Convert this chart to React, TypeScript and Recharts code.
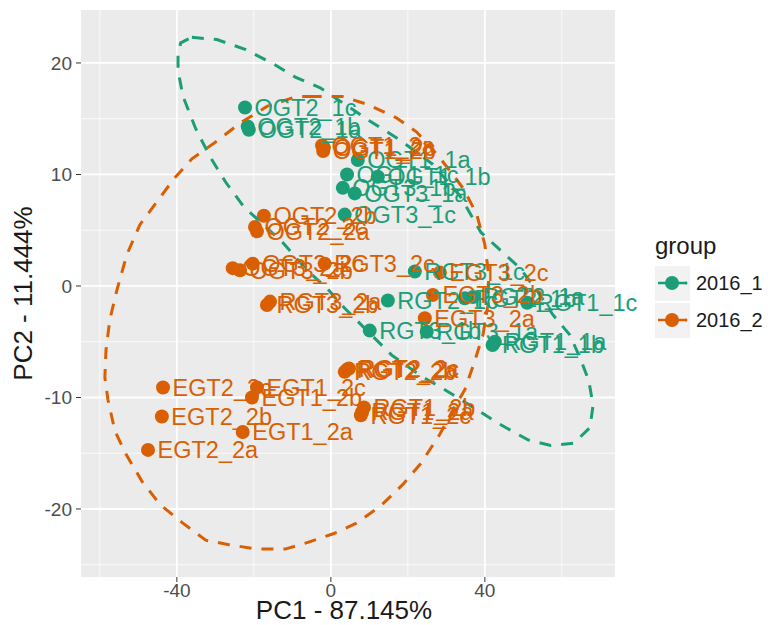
import { ScatterChart, Scatter, XAxis, YAxis, CartesianGrid, ReferenceLine, LabelList, Label } from "recharts";

const GREEN = "#1b9e77";
const ORANGE = "#d95f02";

// group 2016_1
const names1 = ["OGT2_1c", "OGT2_1b", "OGT2_1a", "OGT1_1a", "OGT1_1c", "OGT1_1b", "OGT3_1b", "OGT3_1a", "OGT3_1c", "RGT3_1c", "RGT2_1c", "RGT2_1b", "RGT2_1a", "RGT1_1c", "RGT3_1b", "RGT3_1a", "RGT1_1a", "RGT1_1b"];
const pc1_1 = [-22.3, -21.6, -21.3, 7.0, 4.2, 12.2, 3.1, 6.2, 3.6, 21.8, 14.8, 34.8, 36.9, 51.0, 10.1, 24.9, 42.6, 42.0];
const pc2_1 = [16.0, 14.3, 14.0, 11.3, 10.0, 9.8, 8.8, 8.3, 6.4, 1.3, -1.3, -1.1, -1.0, -1.5, -4.0, -4.1, -5.0, -5.3];

// group 2016_2
const names2 = ["OGT1_2a", "OGT1_2b", "OGT1_2c", "OGT2_2b", "OGT2_2c", "OGT2_2a", "OGT3_2a", "OGT3_2b", "OGT3_2c", "RGT3_2c", "RGT3_2a", "RGT3_2b", "EGT3_2c", "EGT3_2b", "EGT3_2a", "RGT2_2a", "RGT2_2b", "RGT2_2c", "RGT1_2a", "RGT1_2b", "RGT1_2c", "EGT1_2c", "EGT1_2b", "EGT1_2a", "EGT2_2c", "EGT2_2b", "EGT2_2a"];
const pc1_2 = [-2.3, -2.0, -1.8, -17.4, -19.7, -19.2, -25.5, -23.6, -20.3, -1.6, -15.8, -16.6, 28.3, 26.5, 24.4, 4.2, 3.6, 4.7, 8.1, 8.6, 7.8, -19.2, -20.5, -22.9, -43.6, -43.9, -47.5];
const pc2_2 = [12.6, 12.1, 12.4, 6.3, 5.3, 4.9, 1.6, 1.4, 2.0, 2.0, -1.4, -1.7, 1.2, -0.8, -2.9, -7.5, -7.7, -7.4, -11.3, -10.9, -11.6, -9.1, -10.0, -13.1, -9.1, -11.7, -14.7];

// ellipse outlines
const ell1X = [-36.1, -29.6, -22.1, -14.8, -9.1, -2.9, 3.6, 10.1, 17.9, 26.5, 33.5, 39.0, 43.1, 49.1, 53.5, 57.7, 62.1, 64.9, 67.0, 68.1, 67.3, 63.1, 57.1, 51.2, 43.9, 36.1, 29.6, 23.1, 15.8, 8.8, 3.6, -1.0, -6.2, -12.5, -22.6, -27.3, -31.4, -35.1, -38.4, -39.7, -39.7, -39.0, -36.1];
const ell1Y = [22.3, 22.1, 21.2, 19.9, 18.7, 17.8, 16.3, 14.8, 13.1, 10.9, 8.1, 4.8, 3.5, 1.6, -0.4, -2.6, -4.4, -6.6, -8.5, -10.7, -12.7, -14.1, -14.3, -13.8, -12.4, -10.7, -9.3, -8.0, -6.2, -3.8, -2.0, -0.2, 1.4, 3.9, 7.1, 9.3, 11.6, 14.1, 17.0, 19.3, 20.8, 21.8, 22.3];
const ell2X = [-5.5, 2.9, 9.4, 16.9, 22.3, 28.3, 34.5, 37.9, 40.0, 41.0, 40.8, 39.5, 37.1, 34.8, 31.4, 28.3, 23.4, 18.7, 13.0, 6.5, 0.8, -6.0, -11.9, -19.2, -26.5, -32.5, -38.7, -44.4, -49.1, -53.2, -56.1, -57.9, -58.7, -58.4, -57.4, -55.6, -53.0, -49.6, -45.5, -40.8, -36.1, -29.6, -23.6, -16.6, -8.8, -5.5];
const ell2Y = [17.0, 17.0, 16.3, 15.1, 13.8, 11.5, 8.7, 6.4, 3.7, 1.0, -1.7, -4.4, -7.0, -9.3, -11.3, -13.3, -15.9, -17.8, -19.7, -21.3, -22.2, -23.0, -23.6, -23.6, -23.2, -22.8, -21.2, -19.6, -17.5, -15.1, -13.0, -10.2, -8.2, -5.7, -3.0, -0.4, 2.8, 5.5, 7.4, 9.6, 11.4, 13.0, 14.6, 16.1, 17.0, 17.0];

const xMajor = [-40, 0, 40];
const xMinor = [-60, -20, 20, 60];
const yMajor = [-20, -10, 0, 10, 20];
const yMinor = [-25, -15, -5, 5, 15];

const group1 = names1.map((name, i) => ({ name, x: pc1_1[i], y: pc2_1[i] }));
const group2 = names2.map((name, i) => ({ name, x: pc1_2[i], y: pc2_2[i] }));
const ellipse1 = ell1X.map((x, i) => ({ x, y: ell1Y[i] }));
const ellipse2 = ell2X.map((x, i) => ({ x, y: ell2Y[i] }));

const FONT = "'Liberation Sans', Arial, sans-serif";
const noShape = () => <g />;
const dot = (color: string) => (p: any) => <circle cx={p.cx} cy={p.cy} r={7} fill={color} />;

function LegendKey({ color }: { color: string }) {
  return (
    <svg width={35} height={35} style={{ display: "block" }}>
      <rect x={0} y={0} width={35} height={35} fill="#f2f2f2" />
      <line x1={3} y1={17} x2={32} y2={17} stroke={color} strokeWidth={2.5} />
      <circle cx={17} cy={17} r={7} fill={color} />
      <circle cx={31} cy={17} r={1.5} fill={color} />
    </svg>
  );
}

export default function App() {
  return (
    <div style={{ position: "relative", width: 762, height: 617, fontFamily: FONT }}>
      <ScatterChart width={762} height={617} margin={{ top: 2, right: 155, bottom: 0, left: 0 }}>
        <CartesianGrid fill="#ebebeb" horizontal={false} vertical={false} />
        {xMinor.map((v) => (
          <ReferenceLine key={"xm" + v} x={v} stroke="#fff" strokeWidth={0.8} />
        ))}
        {yMinor.map((v) => (
          <ReferenceLine key={"ym" + v} y={v} stroke="#fff" strokeWidth={0.8} />
        ))}
        {xMajor.map((v) => (
          <ReferenceLine key={"xM" + v} x={v} stroke="#fff" strokeWidth={1.8} />
        ))}
        {yMajor.map((v) => (
          <ReferenceLine key={"yM" + v} y={v} stroke="#fff" strokeWidth={1.8} />
        ))}
        <XAxis
          type="number"
          dataKey="x"
          domain={[-64.9, 73.8]}
          ticks={xMajor}
          allowDataOverflow
          height={48}
          axisLine={false}
          tickSize={5}
          tickMargin={2}
          tickLine={{ stroke: "#333", strokeWidth: 1 }}
          tick={{ fill: "#4d4d4d", fontSize: 19 }}
        >
          <Label
            content={(p: any) => {
              const vb = p.viewBox;
              return (
                <text x={vb.x + vb.width / 2 - 4} y={vb.y + 42} textAnchor="middle" fontSize={26} fill="#1a1a1a">
                  PC1 - 87.145%
                </text>
              );
            }}
          />
        </XAxis>
        <YAxis
          type="number"
          dataKey="y"
          domain={[-26.1, 24.75]}
          ticks={yMajor}
          allowDataOverflow
          width={73}
          axisLine={false}
          tickSize={5}
          tickMargin={4}
          tickLine={{ stroke: "#333", strokeWidth: 1 }}
          tick={{ fill: "#4d4d4d", fontSize: 19 }}
        >
          <Label
            content={(p: any) => {
              const vb = p.viewBox;
              const cx = vb.x + 15;
              const cy = vb.y + vb.height / 2;
              return (
                <text x={cx} y={cy} transform={`rotate(-90, ${cx}, ${cy})`} textAnchor="middle" dominantBaseline="central" fontSize={26} fill="#1a1a1a">
                  PC2 - 11.444%
                </text>
              );
            }}
          />
        </YAxis>
        <Scatter data={group1} fill={GREEN} shape={dot(GREEN)} isAnimationActive={false}>
          <LabelList dataKey="name" position="right" offset={5} fill={GREEN} fontSize={23.5} />
        </Scatter>
        <Scatter data={group2} fill={ORANGE} shape={dot(ORANGE)} isAnimationActive={false}>
          <LabelList dataKey="name" position="right" offset={5} fill={ORANGE} fontSize={23.5} />
        </Scatter>
        <Scatter
          data={ellipse1}
          fill={GREEN}
          shape={noShape}
          line={{ stroke: GREEN, strokeWidth: 3, strokeDasharray: "12 10" }}
          isAnimationActive={false}
        />
        <Scatter
          data={ellipse2}
          fill={ORANGE}
          shape={noShape}
          line={{ stroke: ORANGE, strokeWidth: 3, strokeDasharray: "12 10" }}
          isAnimationActive={false}
        />
      </ScatterChart>
      <div style={{ position: "absolute", left: 647, top: 223, color: "#1a1a1a" }}>
        <div style={{ fontSize: 24, lineHeight: "30px", marginBottom: 4 }}>group</div>
        {[
          { label: "2016_1", color: GREEN },
          { label: "2016_2", color: ORANGE },
        ].map((it) => (
          <div key={it.label} style={{ display: "flex", alignItems: "center", height: 37 }}>
            <LegendKey color={it.color} />
            <span style={{ fontSize: 20, marginLeft: 6 }}>{it.label}</span>
          </div>
        ))}
      </div>
    </div>
  );
}
